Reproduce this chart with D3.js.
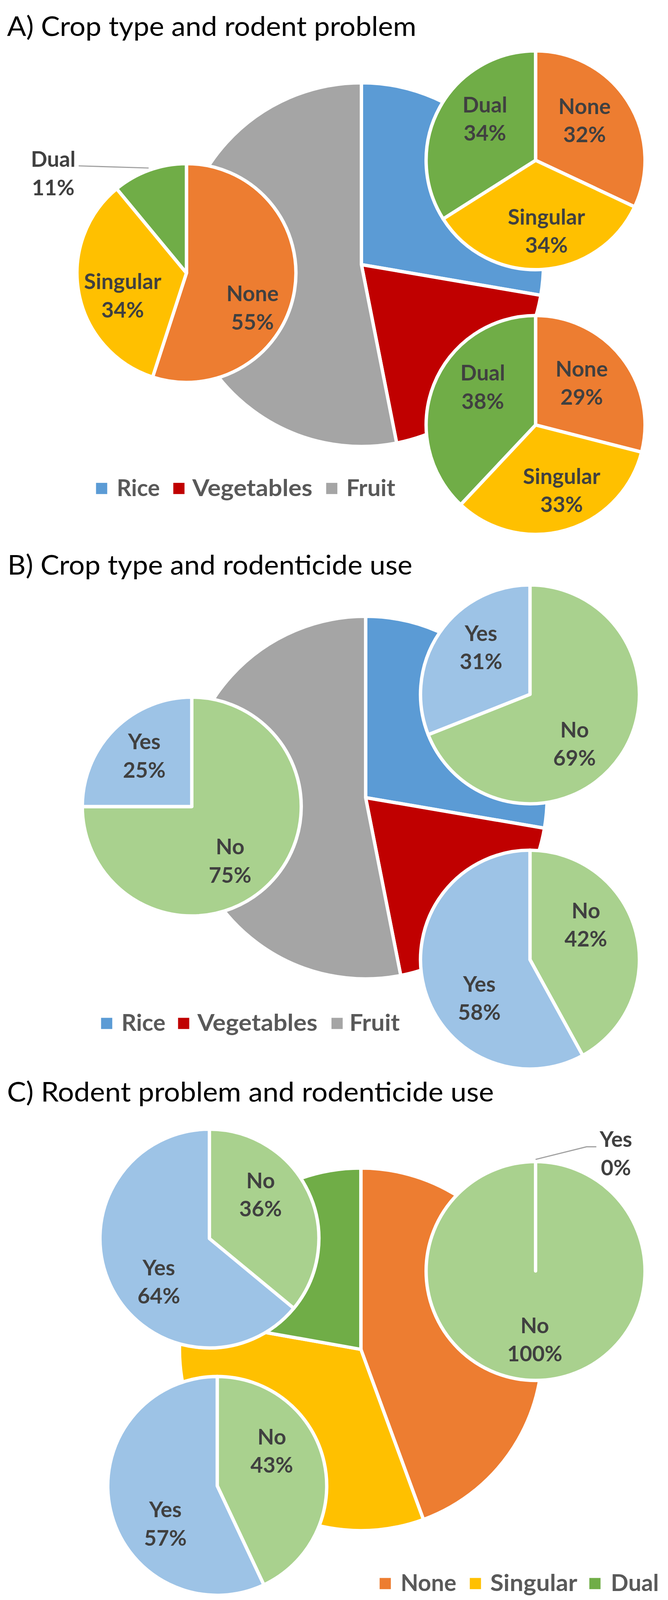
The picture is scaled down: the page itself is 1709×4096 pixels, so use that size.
<!DOCTYPE html>
<html>
<head>
<meta charset="utf-8">
<script src="https://cdn.jsdelivr.net/npm/d3@7"></script>
<style>
  html, body { margin: 0; padding: 0; background: #ffffff; }
  svg { display: block; }
</style>
</head>
<body>
<svg id="chart" width="1709" height="4096" viewBox="0 0 2386 5717"></svg>
<script>
// ---------------- DATA ----------------
const cropTypes = ["Rice", "Vegetables", "Fruit"];
const cropShare = [27.7, 19.2, 53.1];

const problemLevels = ["None", "Singular", "Dual"];
const problemShare = [44.4, 33.4, 22.2];

const useLevels = ["No", "Yes"];

// rodent problem within each crop type (%)
const riceProblem = [32, 34, 34];
const vegetablesProblem = [29, 33, 38];
const fruitProblem = [55, 34, 11];

// rodenticide use within each crop type (%), order No, Yes
const riceUse = [69, 31];
const vegetablesUse = [42, 58];
const fruitUse = [75, 25];

// rodenticide use within each rodent problem level (%), order No, Yes
const noneUse = [100, 0];
const singularUse = [43, 57];
const dualUse = [36, 64];

const panelTitles = [
  "A) Crop type and rodent problem",
  "B) Crop type and rodenticide use",
  "C) Rodent problem and rodenticide use"
];

// ---------------- STYLES ----------------
const cropColor = d3.scaleOrdinal().domain(cropTypes).range(["#5B9BD5", "#C00000", "#A5A5A5"]);
const problemColor = d3.scaleOrdinal().domain(problemLevels).range(["#ED7D31", "#FFC000", "#70AD47"]);
const useColor = d3.scaleOrdinal().domain(useLevels).range(["#A9D18E", "#9DC3E6"]);

const FONT = "Lato, 'Open Sans', 'DejaVu Sans', sans-serif";
const LABEL_SIZE = 77, LEGEND_SIZE = 83, TITLE_SIZE = 97;
const LABEL_COLOR = "#404040", LEGEND_COLOR = "#595959";
const STROKE_W = 12;

// ---------------- LAYOUT ----------------
const layout = [
  {
    title: { x: 25, y: 127, w: 1462 },
    big: { cx: 1291, cy: 945, r: 650, cats: cropTypes, vals: cropShare, color: cropColor },
    smalls: [
      { cx: 666, cy: 975, r: 391, cats: problemLevels, vals: fruitProblem, color: problemColor,
        labels: [{ a: 117.9, f: 0.683 }, { a: 250.2, f: 0.619 }, { out: true, x: 190, y: 620, leader: [[281, 592]] }] },
      { cx: 1913, cy: 572, r: 391, cats: problemLevels, vals: riceProblem, color: problemColor,
        labels: [{ a: 51.1, f: 0.575 }, { a: 171.3, f: 0.657 }, { a: 309, f: 0.596 }] },
      { cx: 1913, cy: 1518, r: 391, cats: problemLevels, vals: vegetablesProblem, color: problemColor,
        labels: [{ a: 47.9, f: 0.568 }, { a: 158.4, f: 0.647 }, { a: 305.5, f: 0.593 }] }
    ],
    legend: { cats: cropTypes, color: cropColor, sqTop: 1725, base: 1773, sqX: [343, 619, 1165], txX: [417, 687, 1237], txW: [154, 429, 175] }
  },
  {
    title: { x: 27, y: 2053, w: 1446 },
    big: { cx: 1306, cy: 2850, r: 648, cats: cropTypes, vals: cropShare, color: cropColor },
    smalls: [
      { cx: 685, cy: 2882, r: 391, cats: useLevels, vals: fruitUse, color: useColor,
        labels: [{ a: 144.9, f: 0.609 }, { a: 316.8, f: 0.634 }] },
      { cx: 1893, cy: 2481, r: 391, cats: useLevels, vals: riceUse, color: useColor,
        labels: [{ a: 138.2, f: 0.611 }, { a: 313.7, f: 0.619 }] },
      { cx: 1893, cy: 3429, r: 391, cats: useLevels, vals: vegetablesUse, color: useColor,
        labels: [{ a: 58.2, f: 0.601 }, { a: 232.5, f: 0.583 }] }
    ],
    legend: { cats: cropTypes, color: cropColor, sqTop: 3637, base: 3683, sqX: [361, 636, 1184], txX: [434, 705, 1248], txW: [157, 429, 180] }
  },
  {
    title: { x: 25, y: 3936, w: 1739 },
    big: { cx: 1289, cy: 4822, r: 648, cats: problemLevels, vals: problemShare, color: problemColor },
    smalls: [
      { cx: 748, cy: 4426, r: 391, cats: useLevels, vals: dualUse, color: useColor,
        labels: [{ a: 49.6, f: 0.614 }, { a: 229.3, f: 0.609 }] },
      { cx: 1913, cy: 4542, r: 391, cats: useLevels, vals: noneUse, color: useColor,
        labels: [{ a: 180.7, f: 0.629 }, { out: true, x: 2200, y: 4122.5, leader: [[2095, 4098], [2130, 4098]] }] },
      { cx: 776, cy: 5310, r: 391, cats: useLevels, vals: singularUse, color: useColor,
        labels: [{ a: 57.5, f: 0.591 }, { a: 233.7, f: 0.588 }] }
    ],
    legend: { cats: problemLevels, color: problemColor, sqTop: 5639, base: 5686, sqX: [1356, 1678, 2105], txX: [1431, 1751, 2182], txW: [199, 311, 171] }
  }
];

// ---------------- DRAW ----------------
const svg = d3.select("#chart");
svg.append("rect").attr("width", 2386).attr("height", 5717).attr("fill", "#ffffff");

const pieGen = d3.pie().sort(null).value(d => d.v).startAngle(0).endAngle(2 * Math.PI);

function drawPie(parent, spec) {
  const data = spec.cats.map((c, i) => ({ cat: c, v: spec.vals[i] }));
  const arcs = pieGen(data);
  const arc = d3.arc().innerRadius(0).outerRadius(spec.r);
  const g = parent.append("g").attr("transform", `translate(${spec.cx},${spec.cy})`);
  g.selectAll("path").data(arcs).join("path")
    .attr("d", arc)
    .attr("fill", d => spec.color(d.data.cat))
    .attr("stroke", "#ffffff")
    .attr("stroke-width", STROKE_W)
    .attr("stroke-linejoin", "round");
  return { g, arcs };
}

function twoLineLabel(parent, x, yCenter, line1, line2) {
  const t = parent.append("text")
    .attr("text-anchor", "middle")
    .attr("font-family", FONT)
    .attr("font-weight", 700)
    .attr("font-size", LABEL_SIZE)
    .attr("fill", LABEL_COLOR);
  t.append("tspan").attr("x", x).attr("y", yCenter - 24).text(line1);
  t.append("tspan").attr("x", x).attr("y", yCenter + 77).text(line2);
}

layout.forEach((p, pi) => {
  const panel = svg.append("g").attr("class", "panel-" + pi);

  // title
  panel.append("text")
    .attr("x", p.title.x).attr("y", p.title.y)
    .attr("font-family", FONT).attr("font-size", TITLE_SIZE)
    .attr("fill", "#000000")
    .attr("textLength", p.title.w).attr("lengthAdjust", "spacingAndGlyphs")
    .text(panelTitles[pi]);

  // big pie
  drawPie(panel, p.big);

  // small pies
  p.smalls.forEach(s => {
    const { arcs } = drawPie(panel, s);
    const labelLayer = panel.append("g");
    arcs.forEach((d, i) => {
      const L = s.labels[i];
      const pct = d.data.v + "%";
      if (L.out) {
        const mid = (d.startAngle + d.endAngle) / 2;
        const rr = s.r * 1.02;
        const start = [s.cx + rr * Math.sin(mid), s.cy - rr * Math.cos(mid)];
        const pts = [start].concat(L.leader);
        labelLayer.append("path")
          .attr("d", d3.line()(pts))
          .attr("fill", "none")
          .attr("stroke", "#A0A0A0")
          .attr("stroke-width", 4);
        twoLineLabel(labelLayer, L.x, L.y, d.data.cat, pct);
      } else {
        const ang = L.a * Math.PI / 180;
        const dist = L.f * s.r;
        twoLineLabel(labelLayer, s.cx + dist * Math.sin(ang), s.cy - dist * Math.cos(ang), d.data.cat, pct);
      }
    });
  });

  // legend
  const lg = panel.append("g");
  p.legend.cats.forEach((c, i) => {
    lg.append("rect")
      .attr("x", p.legend.sqX[i]).attr("y", p.legend.sqTop)
      .attr("width", 40).attr("height", 40)
      .attr("fill", p.legend.color(c));
    lg.append("text")
      .attr("x", p.legend.txX[i]).attr("y", p.legend.base)
      .attr("font-family", FONT).attr("font-weight", 700)
      .attr("font-size", LEGEND_SIZE).attr("fill", LEGEND_COLOR)
      .attr("textLength", p.legend.txW[i]).attr("lengthAdjust", "spacingAndGlyphs")
      .text(c);
  });
});
</script>
</body>
</html>
